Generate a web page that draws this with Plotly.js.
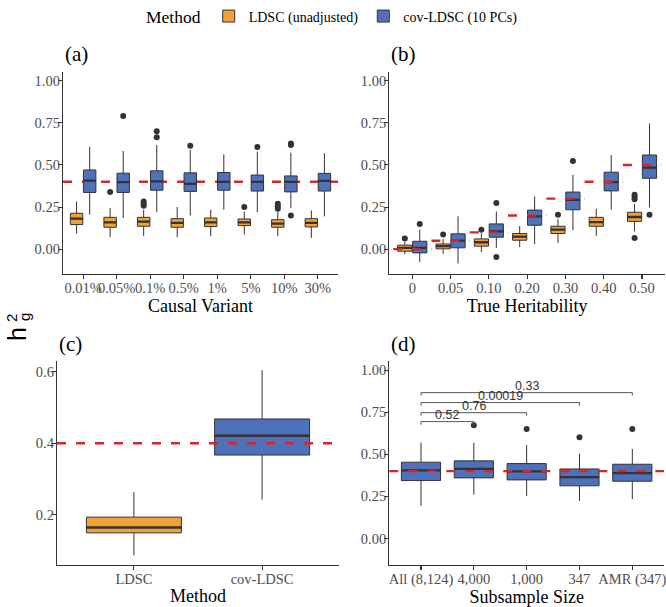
<!DOCTYPE html>
<html>
<head>
<meta charset="utf-8">
<script src="https://cdn.plot.ly/plotly-3.0.1.min.js"></script>
<style>html,body{margin:0;padding:0;background:#fff;}#chart{width:666px;height:607px;}</style>
</head>
<body>
<div id="chart"></div>
<script>
// ---------- DATA ----------
const trueH2 = 0.4;

// Panel (a): causal variant proportion
const catsA = ['0.01%','0.05%','0.1%','0.5%','1%','5%','10%','30%'];
const aLdscQ1  = [0.146,0.130,0.136,0.130,0.134,0.140,0.130,0.132];
const aLdscMed = [0.181,0.159,0.163,0.156,0.159,0.159,0.152,0.156];
const aLdscQ3  = [0.213,0.189,0.189,0.181,0.185,0.179,0.175,0.181];
const aLdscLo  = [0.093,0.071,0.079,0.071,0.077,0.087,0.077,0.067];
const aLdscHi  = [0.283,0.244,0.234,0.250,0.234,0.224,0.220,0.230];
const aLdscOut = [[],[0.339],[0.283,0.270,0.258],[],[],[0.250],[0.270,0.255,0.240],[]];

const aCovQ1  = [0.337,0.337,0.350,0.343,0.350,0.345,0.340,0.345];
const aCovMed = [0.407,0.398,0.402,0.388,0.400,0.400,0.400,0.405];
const aCovQ3  = [0.470,0.451,0.465,0.453,0.455,0.440,0.435,0.450];
const aCovLo  = [0.205,0.185,0.220,0.200,0.235,0.220,0.245,0.195];
const aCovHi  = [0.608,0.583,0.618,0.589,0.563,0.579,0.573,0.569];
const aCovOut = [[],[0.791],[0.700,0.665],[0.614],[],[0.606],[0.628,0.618,0.200],[]];

// Panel (b): true heritability
const catsB  = ['0','0.05','0.10','0.20','0.30','0.40','0.50'];
const truthB = [0, 0.05, 0.10, 0.20, 0.30, 0.40, 0.50];
const bLdscQ1  = [-0.012,0.002,0.018,0.053,0.093,0.136,0.165];
const bLdscMed = [0.008,0.018,0.041,0.074,0.116,0.161,0.191];
const bLdscQ3  = [0.024,0.031,0.061,0.093,0.136,0.189,0.219];
const bLdscLo  = [-0.031,-0.028,-0.016,0.012,0.037,0.079,0.106];
const bLdscHi  = [0.043,0.060,0.095,0.138,0.180,0.240,0.268];
const bLdscOut = [[0.063],[0.087],[0.116],[],[0.205],[],[0.323,0.309,0.297,0.067]];

const bCovQ1  = [-0.022,0.008,0.071,0.142,0.234,0.346,0.421];
const bCovMed = [0.008,0.051,0.106,0.195,0.293,0.398,0.484];
const bCovQ3  = [0.047,0.091,0.150,0.232,0.339,0.457,0.559];
const bCovLo  = [-0.077,-0.085,0.008,0.031,0.112,0.234,0.248];
const bCovHi  = [0.116,0.195,0.224,0.313,0.441,0.559,0.746];
const bCovOut = [[0.150],[],[0.274,-0.047],[],[0.524],[],[0.205]];

// Panel (c): method comparison
const catsC = ['LDSC','cov-LDSC'];
const cQ1  = [0.149,0.367];
const cMed = [0.164,0.421];
const cQ3  = [0.193,0.468];
const cLo  = [0.086,0.242];
const cHi  = [0.263,0.605];

// Panel (d): subsample size
const catsD = ['All (8,124)','4,000','1,000','347','AMR (347)'];
const dQ1  = [0.344,0.360,0.348,0.313,0.340];
const dMed = [0.405,0.413,0.399,0.364,0.388];
const dQ3  = [0.453,0.461,0.445,0.413,0.441];
const dLo  = [0.194,0.261,0.253,0.224,0.234];
const dHi  = [0.569,0.569,0.555,0.504,0.532];
const dOut = [[],[0.672],[0.650],[0.601],[0.650]];

// Panel (d) pairwise comparison brackets
const cmpGroup1 = ['All (8,124)','All (8,124)','All (8,124)','All (8,124)'];
const cmpGroup2 = ['4,000','1,000','347','AMR (347)'];
const cmpLabel  = ['0.52','0.76','0.00019','0.33'];
const cmpY      = [0.694,0.747,0.807,0.866];

// ---------- STYLE ----------
const ORANGE = '#F1A13A';
const BLUE = '#4E71BA';
const EDGE = '#333333';
const RED = '#D7262B';
const DASH = '9px,10px';
const SERIF = 'Liberation Serif, Times New Roman, serif';
const SANS = 'Liberation Sans, Arial, sans-serif';

// empty outlier lists get a null placeholder so every box keeps a sample row
const pts = rows => rows.map(r => (r && r.length) ? r : [null]);

function boxPair(opts) {
  const main = {
    type: 'box', orientation: 'v', name: opts.name,
    x: opts.x, q1: opts.q1, median: opts.med, q3: opts.q3,
    lowerfence: opts.lo, upperfence: opts.hi,
    y: pts(opts.out || opts.x.map(() => [])),
    boxpoints: 'outliers', jitter: 0, pointpos: 0,
    fillcolor: opts.color, line: {color: EDGE, width: 1},
    marker: {color: EDGE, size: 6, line: {width: 0}},
    whiskerwidth: 0,
    xaxis: opts.xa, yaxis: opts.ya,
    offsetgroup: opts.og, alignmentgroup: opts.ag,
    legendgroup: opts.name, showlegend: !!opts.legend,
    hoverinfo: 'skip'
  };
  const medLine = {
    type: 'box', orientation: 'v', name: opts.name,
    x: opts.x, q1: opts.med, median: opts.med, q3: opts.med,
    lowerfence: opts.med, upperfence: opts.med,
    boxpoints: false, fillcolor: 'rgba(0,0,0,0)',
    line: {color: EDGE, width: 2.3}, whiskerwidth: 0,
    xaxis: opts.xa, yaxis: opts.ya,
    offsetgroup: opts.og, alignmentgroup: opts.ag,
    legendgroup: opts.name, showlegend: false, hoverinfo: 'skip'
  };
  return [main, medLine];
}

const mains = [], meds = [];
function add(pair) { mains.push(pair[0]); meds.push(pair[1]); }

add(boxPair({name:'LDSC (unadjusted)', x:catsA, q1:aLdscQ1, med:aLdscMed, q3:aLdscQ3, lo:aLdscLo, hi:aLdscHi, out:aLdscOut, color:ORANGE, xa:'x', ya:'y', og:'a1', ag:'a', legend:true}));
add(boxPair({name:'cov-LDSC (10 PCs)', x:catsA, q1:aCovQ1, med:aCovMed, q3:aCovQ3, lo:aCovLo, hi:aCovHi, out:aCovOut, color:BLUE, xa:'x', ya:'y', og:'a2', ag:'a', legend:true}));
add(boxPair({name:'LDSC (unadjusted)', x:catsB, q1:bLdscQ1, med:bLdscMed, q3:bLdscQ3, lo:bLdscLo, hi:bLdscHi, out:bLdscOut, color:ORANGE, xa:'x2', ya:'y2', og:'b1', ag:'b'}));
add(boxPair({name:'cov-LDSC (10 PCs)', x:catsB, q1:bCovQ1, med:bCovMed, q3:bCovQ3, lo:bCovLo, hi:bCovHi, out:bCovOut, color:BLUE, xa:'x2', ya:'y2', og:'b2', ag:'b'}));
add(boxPair({name:'LDSC (unadjusted)', x:[catsC[0]], q1:[cQ1[0]], med:[cMed[0]], q3:[cQ3[0]], lo:[cLo[0]], hi:[cHi[0]], color:ORANGE, xa:'x3', ya:'y3', og:'c1', ag:'c'}));
add(boxPair({name:'cov-LDSC (10 PCs)', x:[catsC[1]], q1:[cQ1[1]], med:[cMed[1]], q3:[cQ3[1]], lo:[cLo[1]], hi:[cHi[1]], color:BLUE, xa:'x3', ya:'y3', og:'c1', ag:'c'}));
add(boxPair({name:'cov-LDSC (10 PCs)', x:catsD, q1:dQ1, med:dMed, q3:dQ3, lo:dLo, hi:dHi, out:dOut, color:BLUE, xa:'x4', ya:'y4', og:'d1', ag:'d'}));

const data = mains.concat(meds);

// ---------- LAYOUT ----------
const W = 666, H = 607;
const px = v => v / W;
const py = v => 1 - v / H;

function xAxis(dom, cats, title) {
  return {
    type: 'category', domain: dom, range: [-0.6, cats.length - 0.4],
    categoryorder: 'array', categoryarray: cats,
    showline: true, linecolor: EDGE, linewidth: 1.2,
    ticks: 'outside', ticklen: 4, tickwidth: 1.1, tickcolor: EDGE,
    tickangle: 0, ticklabelstandoff: -4,
    showgrid: false, zeroline: false,
    tickfont: {family: SERIF, size: 14.5, color: '#4d4d4d'},
    title: {text: title, font: {family: SERIF, size: 18, color: '#000'}, standoff: 3},
    fixedrange: true
  };
}
function yAxis(dom, range, extra) {
  return Object.assign({
    type: 'linear', domain: dom, range: range,
    showline: true, linecolor: EDGE, linewidth: 1.2,
    ticks: 'outside', ticklen: 4, tickwidth: 1.1, tickcolor: EDGE,
    ticklabelstandoff: -5,
    showgrid: false, zeroline: false,
    tickfont: {family: SERIF, size: 14.5, color: '#4d4d4d'},
    tickmode: 'array', tickvals: [0, 0.25, 0.5, 0.75, 1], tickformat: '.2f',
    fixedrange: true
  }, extra || {});
}

const topDom = [py(273), py(70.7)];
const botDom = [py(565), py(360)];

const shapes = [];
// (a) reference line below boxes
shapes.push({type:'line', xref:'x domain', yref:'y', x0:0, x1:1, y0:trueH2, y1:trueH2, layer:'below',
  line:{color:RED, width:2.4, dash:DASH}});
// (b) per-category true heritability
truthB.forEach((v, i) => {
  shapes.push({type:'line', xref:'x2', yref:'y2', x0:i - 0.5, x1:i + 0.5, y0:v, y1:v, layer:'above',
    line:{color:RED, width:2.4, dash:DASH}});
});
// (c), (d) reference line above boxes
shapes.push({type:'line', xref:'x3 domain', yref:'y3', x0:0, x1:1, y0:trueH2, y1:trueH2, layer:'above',
  line:{color:RED, width:2.4, dash:DASH}});
shapes.push({type:'line', xref:'x4 domain', yref:'y4', x0:0, x1:1, y0:trueH2, y1:trueH2, layer:'above',
  line:{color:RED, width:2.4, dash:DASH}});

const annotations = [];
// (d) brackets
const tip = 0.018;
cmpGroup1.forEach((g1, k) => {
  const i1 = catsD.indexOf(g1), i2 = catsD.indexOf(cmpGroup2[k]);
  const yv = cmpY[k];
  const br = {color:'#555', width:1};
  shapes.push({type:'line', xref:'x4', yref:'y4', x0:i1, x1:i2, y0:yv, y1:yv, line:br});
  shapes.push({type:'line', xref:'x4', yref:'y4', x0:i1, x1:i1, y0:yv, y1:yv - tip, line:br});
  shapes.push({type:'line', xref:'x4', yref:'y4', x0:i2, x1:i2, y0:yv, y1:yv - tip, line:br});
  annotations.push({xref:'x4', yref:'y4', x:(i1 + i2) / 2, y:yv, text:cmpLabel[k], showarrow:false,
    yanchor:'bottom', xanchor:'center', yshift:-2, font:{family:SANS, size:12.5, color:'#333'}});
});

// panel tags
[['(a)', 63, 52], ['(b)', 389, 52], ['(c)', 57, 343], ['(d)', 389, 343]].forEach(t => {
  annotations.push({xref:'paper', yref:'paper', x:px(t[1]), y:py(t[2]), xanchor:'left', yanchor:'middle',
    text:t[0], showarrow:false, font:{family:SERIF, size:21, color:'#000'}});
});

// shared y label h_g^2
annotations.push({xref:'paper', yref:'paper', x:px(17), y:py(333), text:'h', textangle:-90, showarrow:false,
  xanchor:'center', yanchor:'middle', font:{family:SANS, size:25, color:'#000'}});
annotations.push({xref:'paper', yref:'paper', x:px(12), y:py(317), text:'2', textangle:-90, showarrow:false,
  xanchor:'center', yanchor:'middle', font:{family:SANS, size:15, color:'#000'}});
annotations.push({xref:'paper', yref:'paper', x:px(25), y:py(316), text:'g', textangle:-90, showarrow:false,
  xanchor:'center', yanchor:'middle', font:{family:SANS, size:15, color:'#000'}});

const layout = {
  width: W, height: H,
  margin: {l:0, r:0, t:0, b:0, pad:0},
  paper_bgcolor: '#fff', plot_bgcolor: 'rgba(0,0,0,0)',
  font: {family: SERIF, color: '#000'},
  boxmode: 'group', boxgap: 0.22, boxgroupgap: 0.05,
  showlegend: true,
  legend: {orientation:'h', x:px(144), xanchor:'left', y:py(15), yanchor:'middle',
    title:{text:'Method', side:'left', font:{family:SERIF, size:17.5, color:'#000'}},
    font:{family:SERIF, size:14, color:'#000'}, bgcolor:'rgba(0,0,0,0)', borderwidth:0,
    itemwidth:30, tracegroupgap:0},
  xaxis:  xAxis([px(63), px(338)], catsA, 'Causal Variant'),
  yaxis:  yAxis(topDom, [-0.148, 1.049]),
  xaxis2: Object.assign(xAxis([px(389.3), px(665)], catsB, 'True Heritability'), {anchor:'y2'}),
  yaxis2: yAxis(topDom, [-0.148, 1.049], {anchor:'x2'}),
  xaxis3: Object.assign(xAxis([px(57), px(339)], catsC, 'Method'), {anchor:'y3'}),
  yaxis3: yAxis(botDom, [0.0585, 0.631], {anchor:'x3', tickvals:[0.2, 0.4, 0.6], tickformat:'.1f'}),
  xaxis4: Object.assign(xAxis([px(389.3), px(664)], catsD, 'Subsample Size'), {anchor:'y4'}),
  yaxis4: yAxis(botDom, [-0.158, 1.055], {anchor:'x4'}),
  shapes: shapes,
  annotations: annotations
};
layout.xaxis.anchor = 'y';
layout.yaxis.anchor = 'x';

Plotly.newPlot('chart', data, layout, {displayModeBar:false, staticPlot:true});
</script>
</body>
</html>
